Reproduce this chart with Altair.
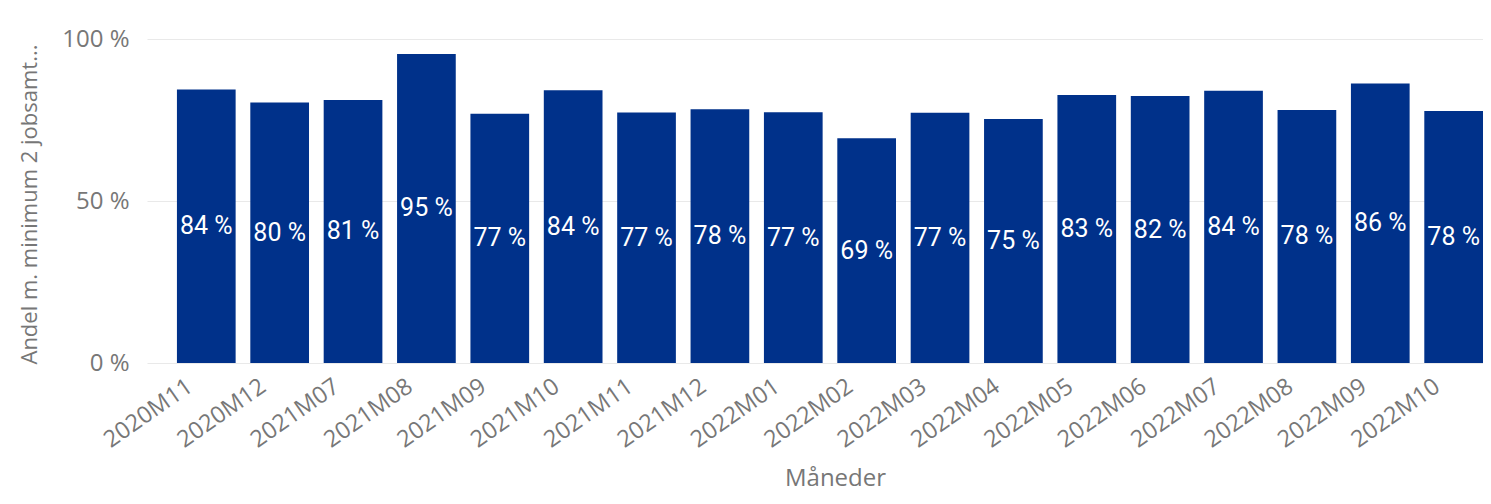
import altair as alt
import pandas as pd

months = ["2020M11", "2020M12", "2021M07", "2021M08", "2021M09", "2021M10",
          "2021M11", "2021M12", "2022M01", "2022M02", "2022M03", "2022M04",
          "2022M05", "2022M06", "2022M07", "2022M08", "2022M09", "2022M10"]
shares = [84.4, 80.4, 81.2, 95.4, 76.9, 84.2, 77.3, 78.3, 77.4, 69.4,
          77.2, 75.3, 82.7, 82.4, 84.0, 78.1, 86.3, 77.8]
y_ticks = [0, 50, 100]

df = pd.DataFrame({"Måned": months, "Andel": shares})

GRAY = "#777777"
BLUE = "#00318A"
FONT = "Open Sans"
YTITLE = "Andel m. minimum 2 jobsamt..."

xscale = alt.Scale(paddingInner=0.2, paddingOuter=0.204, align=1)
yscale = alt.Scale(domain=[0, 100], nice=False)

yaxis = alt.Axis(values=y_ticks, labelExpr="datum.value + ' %'",
                 labelFont=FONT, labelFontSize=24, labelColor=GRAY,
                 labelPadding=18, ticks=False, domain=False,
                 gridColor="#E9E9E9", gridWidth=1.2,
                 titleFont=FONT, titleFontSize=22, titleColor=GRAY,
                 titleFontWeight="normal", titleAngle=-90,
                 titleX=-111, titleY=165, titleBaseline="alphabetic",
                 titleAlign="center")

bars = alt.Chart(df).mark_bar(color=BLUE).encode(
    x=alt.X("Måned:N", sort=months, title="Måneder", scale=xscale,
            axis=alt.Axis(labelAngle=-35, labelFont=FONT, labelFontSize=23.5,
                          labelColor=GRAY, labelPadding=11, labelOffset=-23,
                          labelOverlap=False, labelAlign="right", labelBaseline="top",
                          ticks=False, domain=False, grid=False,
                          titleFont=FONT, titleFontSize=24, titleColor=GRAY,
                          titleFontWeight="normal", titleX=688, titleY=122,
                          titleBaseline="alphabetic", titleAlign="center")),
    y=alt.Y("Andel:Q", title=YTITLE, scale=yscale, axis=yaxis),
)

labels = alt.Chart(df).transform_calculate(
    mid="datum.Andel / 2",
    lab="format(datum.Andel, '.0f') + ' %'",
).mark_text(color="white", font="Roboto", fontSize=25, fontWeight=400,
            baseline="middle", align="center").encode(
    x=alt.X("Måned:N", sort=months),
    y=alt.Y("mid:Q", title=YTITLE, scale=yscale, axis=yaxis),
    text="lab:N",
)

chart = alt.layer(bars, labels).properties(
    width=1336, height=324,
    autosize=alt.AutoSizeParams(type="none"),
    padding={"left": 139, "top": 31, "right": 0, "bottom": 129},
).configure_view(stroke=None)

chart.save("out.html", embed_options={"renderer": "svg", "actions": False})
